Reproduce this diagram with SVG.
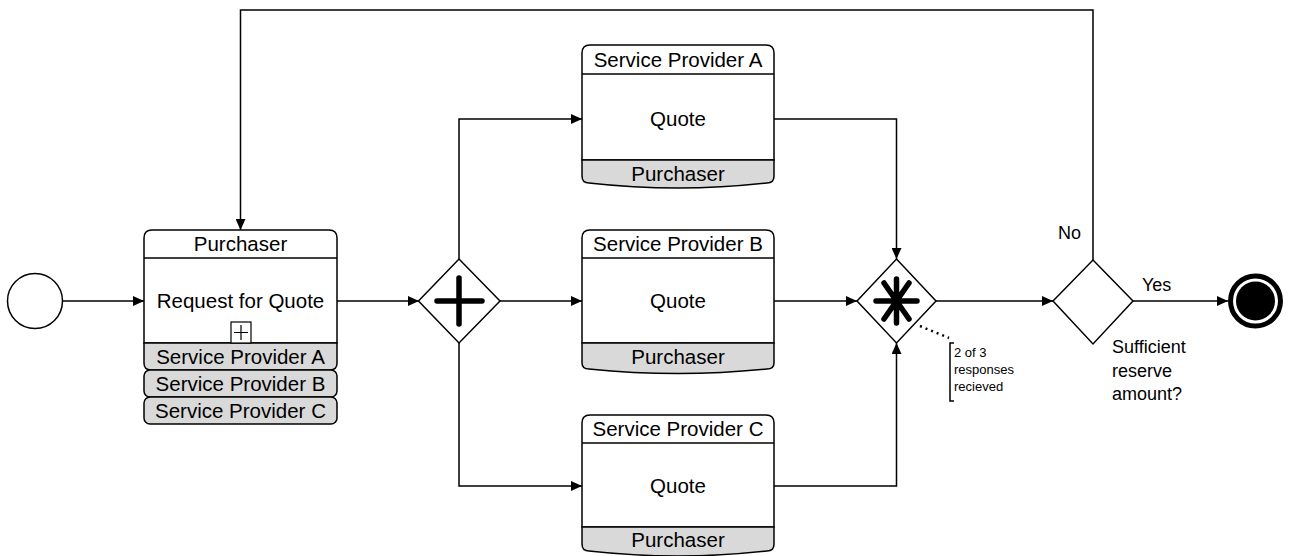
<svg xmlns="http://www.w3.org/2000/svg" width="1289" height="556" viewBox="0 0 1289 556">
<style>
text{font-family:"Liberation Sans",Arial,sans-serif;fill:#000}
.t{font-size:20.5px;text-anchor:middle}
.l{font-size:18px}
.s{font-size:13px}
.box{fill:#fff;stroke:#000;stroke-width:1.5}
.band{fill:#d9d9d9;stroke:#000;stroke-width:1.5}
.ln{fill:none;stroke:#000;stroke-width:1.5}
.con{fill:none;stroke:#000;stroke-width:1.5;marker-end:url(#arr)}
.mk{fill:none;stroke:#000;stroke-width:5.5;stroke-linecap:round}
</style>
<defs>
<marker id="arr" markerUnits="userSpaceOnUse" markerWidth="12" markerHeight="10" refX="11" refY="5" orient="auto">
<path d="M0,0 L11,5 L0,10 Z" fill="#000"/>
</marker>
</defs>
<rect width="1289" height="556" fill="#fff"/>

<g id="connectors">
<path class="con" d="M62.5 301 H144"/>
<path class="con" d="M337 301 H419"/>
<path class="con" d="M459 259 V119 H582"/>
<path class="con" d="M500 301 H582"/>
<path class="con" d="M459 343 V486 H582"/>
<path class="con" d="M774 119 H896.5 V259"/>
<path class="con" d="M774 301 H857"/>
<path class="con" d="M774 486 H896.5 V343"/>
<path class="con" d="M936 301 H1053"/>
<path class="con" d="M1133 301 H1228"/>
<path class="con" d="M1093 260 V10 H240.5 V230"/>
<path d="M920 326 L949 338" fill="none" stroke="#000" stroke-width="2.5" stroke-dasharray="2 4"/>
</g>

<g id="start">
<circle cx="35" cy="301" r="27.5" fill="#fff" stroke="#000" stroke-width="1.5"/>
</g>

<g id="request">
<path class="box" d="M144 343 V238 Q144 230 152 230 H329 Q337 230 337 238 V343 Z"/>
<line class="ln" x1="144" y1="258" x2="337" y2="258"/>
<path class="band" d="M144 343 H337 V363 Q337 370 330 370 H151 Q144 370 144 363 Z"/>
<rect class="band" x="144" y="370" width="193" height="27" rx="6"/>
<rect class="band" x="144" y="397" width="193" height="27" rx="6"/>
<rect x="231" y="322" width="20" height="21" fill="#fff" stroke="#000" stroke-width="1.2"/>
<path d="M234 332.5 H248 M241 325 V340" stroke="#000" stroke-width="1.2"/>
<text class="t" x="240.5" y="251">Purchaser</text>
<text class="t" x="240.5" y="308">Request for Quote</text>
<text class="t" x="240.5" y="364">Service Provider A</text>
<text class="t" x="240.5" y="391">Service Provider B</text>
<text class="t" x="240.5" y="418">Service Provider C</text>
</g>

<g id="fork">
<path d="M459 259 L500 301 L459 343 L418.5 301 Z" fill="#fff" stroke="#000" stroke-width="1.5"/>
<path class="mk" d="M437 301 H482 M459 278 V324"/>
</g>

<g id="quoteA">
<path class="box" d="M582 160 V53 Q582 45 590 45 H766 Q774 45 774 53 V160 Z"/>
<line class="ln" x1="582" y1="74" x2="774" y2="74"/>
<path class="band" d="M582 160 H774 V176 Q774 183 767 183 Q678 193 589 183 Q582 183 582 176 Z"/>
<text class="t" x="678" y="67">Service Provider A</text>
<text class="t" x="678" y="126">Quote</text>
<text class="t" x="678" y="181">Purchaser</text>
</g>

<g id="quoteB">
<path class="box" d="M582 343 V238 Q582 230 590 230 H766 Q774 230 774 238 V343 Z"/>
<line class="ln" x1="582" y1="258" x2="774" y2="258"/>
<path class="band" d="M582 343 H774 V363 Q774 369 767 369 Q678 378 589 369 Q582 369 582 363 Z"/>
<text class="t" x="678" y="251">Service Provider B</text>
<text class="t" x="678" y="308">Quote</text>
<text class="t" x="678" y="364">Purchaser</text>
</g>

<g id="quoteC">
<path class="box" d="M582 527 V423 Q582 415 590 415 H766 Q774 415 774 423 V527 Z"/>
<line class="ln" x1="582" y1="443" x2="774" y2="443"/>
<path class="band" d="M582 527 H774 V544 Q774 551 767 551 Q678 561 589 551 Q582 551 582 544 Z"/>
<text class="t" x="678" y="436">Service Provider C</text>
<text class="t" x="678" y="493">Quote</text>
<text class="t" x="678" y="547">Purchaser</text>
</g>

<g id="join">
<path d="M896.5 259 L936 301 L896.5 343 L857 301 Z" fill="#fff" stroke="#000" stroke-width="1.5"/>
<path class="mk" d="M876 301 H917 M896.5 279 V323 M884 283 L909 319 M909 283 L884 319"/>
</g>

<g id="annotation">
<path class="ln" d="M954 343 H950 V401 H954" stroke-width="1.2"/>
<text class="s" x="954" y="357">2 of 3</text>
<text class="s" x="954" y="374">responses</text>
<text class="s" x="954" y="391">recieved</text>
</g>

<g id="decision">
<path d="M1093 260 L1133 301 L1093 344 L1053 301 Z" fill="#fff" stroke="#000" stroke-width="1.5"/>
<text class="l" x="1058" y="239">No</text>
<text class="l" x="1142" y="291">Yes</text>
<text class="l" x="1112" y="353">Sufficient</text>
<text class="l" x="1112" y="377">reserve</text>
<text class="l" x="1112" y="400">amount?</text>
</g>

<g id="end">
<circle cx="1255.5" cy="301" r="25" fill="#fff" stroke="#000" stroke-width="5"/>
<circle cx="1255.5" cy="301" r="19.5" fill="#000"/>
</g>
</svg>
